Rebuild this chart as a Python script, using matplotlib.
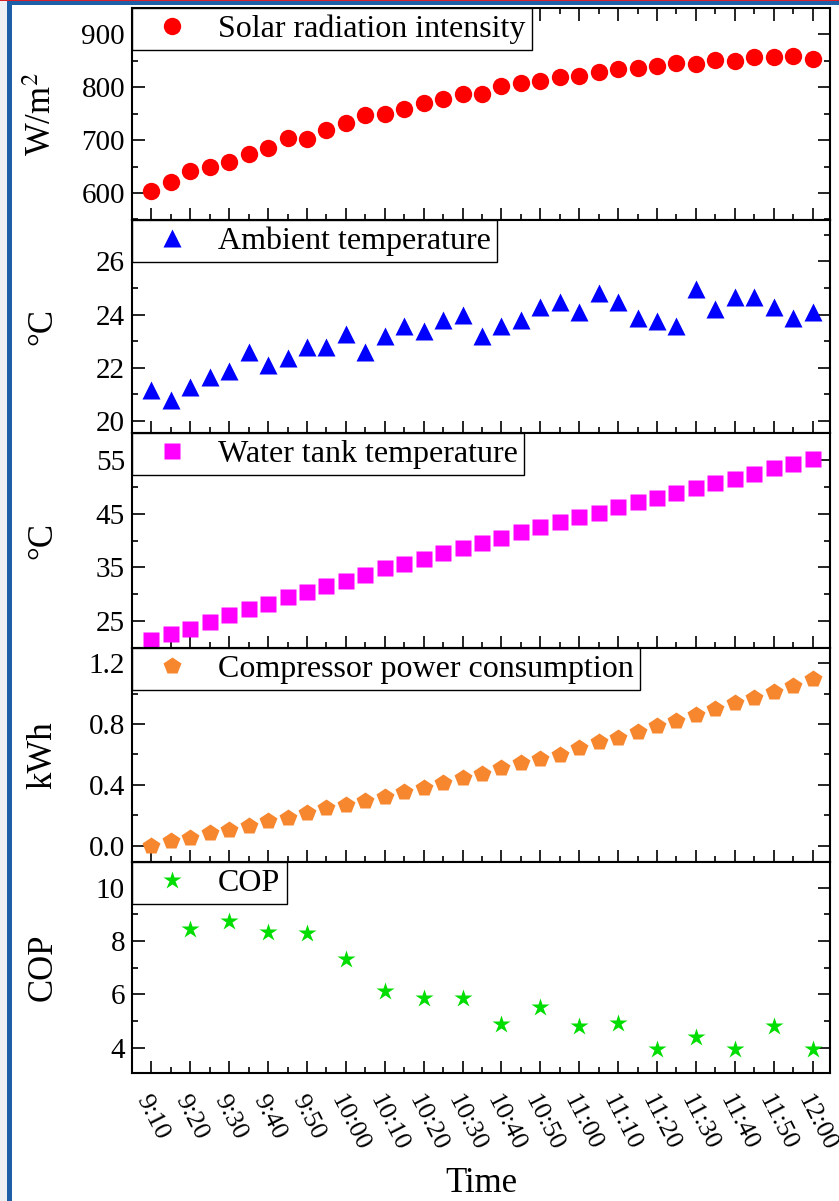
import numpy as np
import matplotlib
matplotlib.use('Agg')
import matplotlib.pyplot as plt
from matplotlib.patches import Rectangle
from matplotlib.ticker import FixedLocator, FormatStrFormatter

plt.rcParams['font.family'] = ['Liberation Serif', 'DejaVu Serif']
plt.rcParams['mathtext.fontset'] = 'stix'

# time in minutes after 9:10, one reading every 5 min
minutes = np.arange(0, 175, 5)
tick_labels = ["9:10", "9:20", "9:30", "9:40", "9:50", "10:00", "10:10", "10:20", "10:30",
               "10:40", "10:50", "11:00", "11:10", "11:20", "11:30", "11:40", "11:50", "12:00"]

solar = [604, 620, 641, 649, 659, 673, 685, 704, 702, 720, 732, 748, 749, 759, 770, 778, 787, 787,
         803, 809, 812, 819, 821, 828, 834, 837, 841, 846, 844, 851, 850, 857, 857, 860, 853]
ambient = [21.18, 20.8, 21.28, 21.65, 21.89, 22.6, 22.1, 22.36, 22.79, 22.79, 23.29, 22.59, 23.18,
           23.58, 23.38, 23.79, 24.0, 23.18, 23.58, 23.79, 24.28, 24.49, 24.09, 24.8, 24.49, 23.89,
           23.78, 23.58, 24.98, 24.2, 24.68, 24.68, 24.28, 23.89, 24.09]
tank = [21.4, 22.56, 23.6, 24.9, 26.06, 27.2, 28.2, 29.4, 30.5, 31.56, 32.4, 33.6, 34.9, 35.7,
        36.56, 37.7, 38.6, 39.56, 40.5, 41.56, 42.5, 43.4, 44.4, 45.2, 46.25, 47.2, 48.0, 48.9,
        49.8, 50.7, 51.4, 52.4, 53.4, 54.3, 55.2]
power = [0.0, 0.03, 0.05, 0.081, 0.103, 0.13, 0.162, 0.184, 0.213, 0.245, 0.268, 0.294, 0.322,
         0.353, 0.377, 0.41, 0.443, 0.471, 0.509, 0.542, 0.568, 0.596, 0.64, 0.684, 0.71, 0.75,
         0.79, 0.82, 0.86, 0.90, 0.94, 0.97, 1.01, 1.05, 1.095]
cop_minutes = np.arange(10, 175, 10)
cop = [8.45, 8.76, 8.35, 8.31, 7.31, 6.13, 5.85, 5.85, 4.89, 5.54, 4.83, 4.91, 3.94, 4.39,
       3.94, 4.83, 3.94]

# y ticks per panel (major, minor)
solar_ticks = ([600, 700, 800, 900], [550, 650, 750, 850, 950])
ambient_ticks = ([20, 22, 24, 26], [21, 23, 25, 27])
tank_ticks = ([25, 35, 45, 55], [20, 30, 40, 50, 60])
power_ticks = ([0.0, 0.4, 0.8, 1.2], [0.2, 0.6, 1.0])
cop_ticks = ([4, 6, 8, 10], [3, 5, 7, 9, 11])

W, H = 839, 1201
fig = plt.figure(figsize=(W / 100, H / 100), dpi=100)

# screenshot frame
fig.add_artist(Rectangle((0, 0), 7 / W, 1, transform=fig.transFigure, color='#eef0f3', lw=0))
fig.add_artist(Rectangle((7 / W, 0), 4.5 / W, 1 - 1 / H, transform=fig.transFigure, color='#1f5fa8', lw=0))
fig.add_artist(Rectangle((7 / W, 1 - 5 / H), 1, 4 / H, transform=fig.transFigure, color='#1f5fa8', lw=0))
fig.add_artist(Rectangle((0, 1 - 1.2 / H), 1, 1.2 / H, transform=fig.transFigure, color='#d8212a', lw=0))

edges = [8, 220, 433, 648, 862, 1073]
left, right = 132, 830

panels = [
    (minutes, solar, 'o', 12.5, '#ff0000', 'Solar radiation intensity', 'W/m$^{2}$', (549, 950), solar_ticks, '%d'),
    (minutes, ambient, '^', 13, '#0000ff', 'Ambient temperature', '°C', (19.55, 27.56), ambient_ticks, '%d'),
    (minutes, tank, 's', 11, '#ff00ff', 'Water tank temperature', '°C', (20, 60), tank_ticks, '%d'),
    (minutes, power, 'p', 13, '#f7872e', 'Compressor power consumption', 'kWh', (-0.107, 1.3), power_ticks, '%.1f'),
    (cop_minutes, cop, '*', 13.5, '#00dd00', 'COP', 'COP', (3.05, 10.96), cop_ticks, '%d'),
]

for i, (xs, ys, mk, ms, col, name, ylab, ylim, yt, fmt) in enumerate(panels):
    top, bot = edges[i], edges[i + 1]
    ax = fig.add_axes([left / W, 1 - bot / H, (right - left) / W, (bot - top) / H])
    ax.plot(xs, ys, ls='none', marker=mk, ms=ms, color=col, mec='none', label=name)
    ax.set_xlim(-5, 174.5)
    ax.set_ylim(*ylim)
    ax.xaxis.set_major_locator(FixedLocator(np.arange(0, 175, 10)))
    ax.xaxis.set_minor_locator(FixedLocator(np.arange(-5, 175, 10)))
    ax.yaxis.set_major_locator(FixedLocator(yt[0]))
    ax.yaxis.set_minor_locator(FixedLocator(yt[1]))
    ax.yaxis.set_major_formatter(FormatStrFormatter(fmt))
    ax.tick_params(which='both', direction='in', width=1.2, top=(i == 0), right=True,
                   labelsize=21, pad=5)
    ax.tick_params(which='major', length=9)
    ax.tick_params(which='minor', length=4.5)
    for s in ax.spines.values():
        s.set_linewidth(1.5)
    ax.set_ylabel(ylab, fontsize=25)
    ax.yaxis.set_label_coords(-0.104, 0.5)
    if i < 4:
        ax.tick_params(labelbottom=False)
    else:
        ax.set_xticklabels(tick_labels, rotation=-63, ha='left', va='top',
                           rotation_mode='anchor', fontsize=19)
        ax.tick_params(axis='x', pad=13)
        ax.set_xlabel('Time', fontsize=25, labelpad=9)
    leg = ax.legend(loc='upper left', bbox_to_anchor=(0, 1), borderaxespad=0, fontsize=23,
                    fancybox=False, framealpha=1, edgecolor='black', borderpad=0.2,
                    handlelength=2.1, handletextpad=0.39, numpoints=1)
    leg.get_frame().set_linewidth(1.0)

fig.savefig('out.png', dpi=100)
